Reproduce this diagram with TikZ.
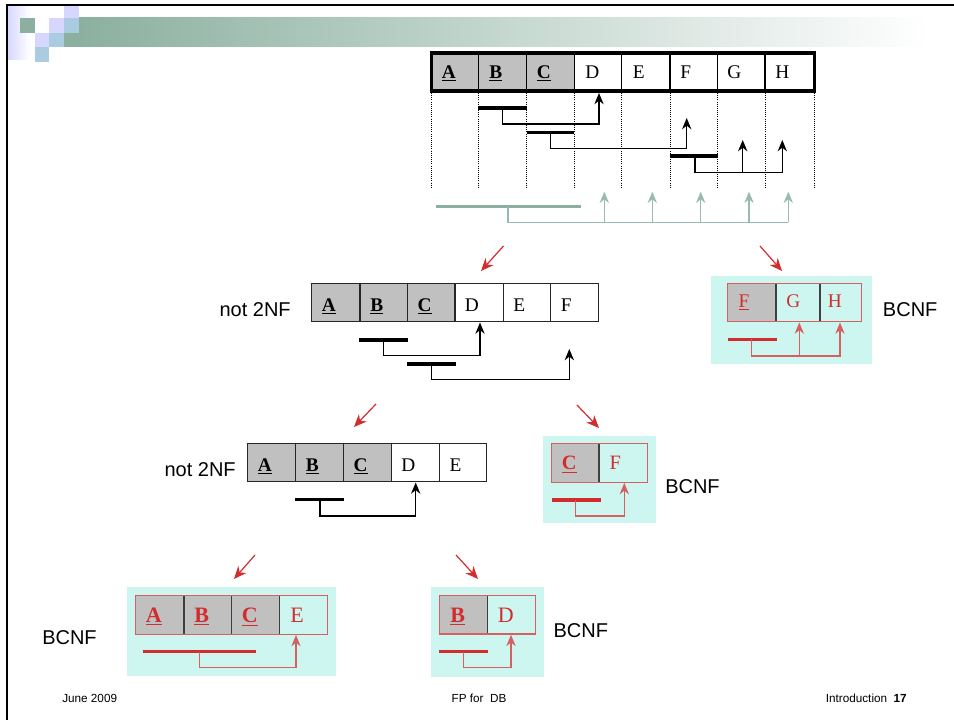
\documentclass[tikz,border=0pt]{standalone}
\usepackage{fontspec}
\setmainfont{Liberation Serif}
\newfontfamily\arialf{Liberation Sans}
\usetikzlibrary{arrows.meta}
\definecolor{gbar}{RGB}{139,176,160}
\definecolor{garr}{RGB}{150,188,175}
\definecolor{lav}{RGB}{214,214,255}
\definecolor{lblue}{RGB}{170,204,224}
\definecolor{cyanbg}{RGB}{206,246,240}
\definecolor{rd}{RGB}{210,45,45}
\definecolor{rdb}{RGB}{214,95,95}
\definecolor{cellgray}{RGB}{192,192,192}
\begin{document}
\begin{tikzpicture}[x=0.75pt,y=-0.75pt,
  ltr/.style={anchor=base west,inner sep=0pt,font=\fontsize{14.5}{15}\selectfont},
  rltr/.style={ltr,text=rd},
  lbl/.style={anchor=base west,inner sep=0pt,font=\arialf\fontsize{15}{16}\selectfont},
  foot/.style={anchor=base,inner sep=0pt,font=\arialf\fontsize{8.8}{10}\selectfont},
  fdbar/.style={line width=2.5pt,black},
  fdline/.style={line width=0.9pt,black},
  redbar/.style={line width=2.6pt,rd},
  redline/.style={line width=0.9pt,rdb},
  gbarst/.style={line width=2.4pt,gbar},
  gline/.style={line width=0.9pt,garr},
  tip/.style={-{Stealth[length=8.5pt,width=7pt,inset=2.8pt]}},
  diag/.style={line width=0.9pt,rd,-{Stealth[length=9.5pt,width=8pt,inset=3pt]}},
  tbl/.style={line width=0.9pt,black!85},
  rtbl/.style={line width=0.9pt,rdb},
  dots/.style={line width=0.6pt,black,dash pattern=on 0.7pt off 0.9pt}]
\useasboundingbox (0,0) rectangle (954,720);
% ---- header decoration ----
\shade[left color=gbar,right color=white] (79,18) rectangle (930,47);
\shade[left color=lav,right color=white] (7,5) rectangle (30,60);
\fill[gbar] (20,18) rectangle (35,33);
\fill[lav] (64,4) rectangle (79,18);
\fill[lav] (49,18) rectangle (64,33);
\fill[lblue] (64,18) rectangle (79,33);
\fill[gbar] (64,33) rectangle (79,47);
\fill[lav] (35,33) rectangle (49,47);
\fill[lblue] (49,33) rectangle (64,47);
\fill[lblue] (35,47) rectangle (49,62);
\draw[line width=0.9pt] (7,720) -- (7,5) -- (954,5);
% ---- top relation ----
\fill[cellgray] (431.7,53) rectangle (574.3,91);
\foreach \x in {478.3,526.7,574.3,621.7,670,717.7,765}
  \draw[line width=0.8pt] (\x,53) -- (\x,91);
\draw[line width=2.5pt] (431.7,53) rectangle (814.3,91);
\foreach \x in {431.7,478.3,526.7,574.3,621.7,670,717.7,765,814.3}
  \draw[dots] (\x,93) -- (\x,187);
\node[ltr] (tA) at (441.7,78.3) {\textbf{\underline{A}}};
\node[ltr] (tB) at (489,78.3) {\textbf{\underline{B}}};
\node[ltr] (tC) at (536.7,78.3) {\textbf{\underline{C}}};
\node[ltr] (tD) at (585,78.3) {D};
\node[ltr] (tE) at (632.5,78.3) {E};
\node[ltr] (tF) at (680,78.3) {F};
\node[ltr] (tG) at (727,78.3) {G};
\node[ltr] (tH) at (775,78.3) {H};
\draw[fdbar] (478.3,108) -- (526.7,108);
\draw[fdline,tip] (502.7,108) -- (502.7,124) -- (599,124) -- (599,93);
\draw[fdbar] (526.7,132.7) -- (574.3,132.7);
\draw[fdline,tip] (550.7,132.7) -- (550.7,148.3) -- (686.7,148.3) -- (686.7,118);
\draw[fdbar] (670,156) -- (717.7,156);
\draw[fdline,tip] (695,156) -- (695,172.3) -- (782.3,172.3) -- (782.3,140);
\draw[fdline,tip] (742.7,172.3) -- (742.7,140);
\draw[gbarst] (436,206.7) -- (581,206.7);
\draw[gline] (508,206.7) -- (508,222.3) -- (788.3,222.3);
\foreach \x in {604.3,652.3,700.7,749,788.3}
  \draw[gline,tip] (\x,222.3) -- (\x,191.7);
% ---- split arrows ----
\coordinate (s1a) at (503.5,246); \coordinate (s1b) at (481,271);
\coordinate (s2a) at (760,246); \coordinate (s2b) at (782,271);
\coordinate (s3a) at (376,404); \coordinate (s3b) at (354,427);
\coordinate (s4a) at (577,405); \coordinate (s4b) at (599,428);
\coordinate (s5a) at (255,555); \coordinate (s5b) at (234,579);
\coordinate (s6a) at (456,555); \coordinate (s6b) at (478,579);
\foreach \i in {1,...,6} \draw[diag] (s\i a) -- (s\i b);
% ---- level 2: ABCDEF ----
\fill[cellgray] (311.7,283.3) rectangle (455,321.7);
\foreach \x in {360,407.3,455,503.3,550.7}
  \draw[tbl] (\x,283.3) -- (\x,321.7);
\draw[tbl] (311.7,283.3) rectangle (598.3,321.7);
\node[ltr] (mA) at (321.7,311.7) {\textbf{\underline{A}}};
\node[ltr] (mB) at (370,311.7) {\textbf{\underline{B}}};
\node[ltr] (mC) at (417.3,311.7) {\textbf{\underline{C}}};
\node[ltr] (mD) at (464.5,311.7) {D};
\node[ltr] (mE) at (513,311.7) {E};
\node[ltr] (mF) at (560.5,311.7) {F};
\node[lbl,anchor=base east] (n2a) at (291,316.5) {not 2NF};
\draw[fdbar] (359.3,340) -- (407.7,340);
\draw[fdline,tip] (383.3,340) -- (383.3,355.7) -- (480,355.7) -- (480,322.5);
\draw[fdbar] (407.3,364) -- (455.7,364);
\draw[fdline,tip] (431.7,364) -- (431.7,379.3) -- (569.3,379.3) -- (569.3,349);
% ---- FGH ----
\fill[cyanbg] (711,276) rectangle (871.7,364);
\fill[cellgray] (727.7,283.3) rectangle (776,321.7);
\draw[line width=0.9pt,black!75] (776,283.3) -- (776,321.7);
\draw[line width=0.9pt,black!75] (820,283.3) -- (820,321.7);
\draw[rtbl] (727.7,283.3) rectangle (861.7,321.7);
\node[rltr] (rF) at (738.3,307.5) {\underline{F}};
\node[rltr] (rG) at (786,307.5) {G};
\node[rltr] (rH) at (827.7,307.5) {H};
\draw[redbar] (728.3,339.3) -- (776.7,339.3);
\draw[redline,tip] (751.7,339.3) -- (751.7,356) -- (840,356) -- (840,322.5);
\draw[redline,tip] (799.3,356) -- (799.3,322.5);
\node[lbl] (b1) at (882.7,316.7) {BCNF};
% ---- level 3: ABCDE ----
\fill[cellgray] (247.7,443.3) rectangle (391.7,481.7);
\foreach \x in {295.7,343.3,391.7,439.3}
  \draw[tbl] (\x,443.3) -- (\x,481.7);
\draw[tbl] (247.7,443.3) rectangle (486.7,481.7);
\node[ltr] (lA) at (257.7,471.5) {\textbf{\underline{A}}};
\node[ltr] (lB) at (305.7,471.5) {\textbf{\underline{B}}};
\node[ltr] (lC) at (353.3,471.5) {\textbf{\underline{C}}};
\node[ltr] (lD) at (401,471.5) {D};
\node[ltr] (lE) at (449.3,471.5) {E};
\node[lbl,anchor=base east] (n2b) at (236,476.7) {not 2NF};
\draw[fdbar] (295,499.3) -- (344,499.3);
\draw[fdline,tip] (320,499.3) -- (320,516) -- (415.7,516) -- (415.7,482.5);
% ---- CF ----
\fill[cyanbg] (542.7,436) rectangle (656,523.3);
\fill[cellgray] (551.7,443.3) rectangle (599,482.3);
\draw[line width=0.9pt,black!75] (599,443.3) -- (599,482.3);
\draw[rtbl] (551.7,443.3) rectangle (647.3,482.3);
\node[rltr,font=\fontsize{15.3}{16}\selectfont] (cC) at (561.7,469.8) {\textbf{\underline{C}}};
\node[rltr,font=\fontsize{15.3}{16}\selectfont] (cF) at (609.3,469.8) {F};
\draw[redbar] (551.7,500) -- (601,500);
\draw[redline,tip] (575.7,500) -- (575.7,516) -- (624.3,516) -- (624.3,483);
\node[lbl] (b2) at (665,493.3) {BCNF};
% ---- ABCE ----
\fill[cyanbg] (126.7,587.3) rectangle (336,676);
\fill[cellgray] (135.7,595.7) rectangle (279.3,634.3);
\foreach \x in {184,231.7,279.3}
  \draw[line width=0.9pt,black!75] (\x,595.7) -- (\x,634.3);
\draw[rtbl] (135.7,595.7) rectangle (327.3,634.3);
\node[rltr,font=\fontsize{16.5}{17}\selectfont] (eA) at (145.7,622.7) {\textbf{\underline{A}}};
\node[rltr,font=\fontsize{16.5}{17}\selectfont] (eB) at (194,622.7) {\textbf{\underline{B}}};
\node[rltr,font=\fontsize{16.5}{17}\selectfont] (eC) at (241.7,622.7) {\textbf{\underline{C}}};
\node[rltr,font=\fontsize{16.5}{17}\selectfont] (eE) at (290,622.7) {E};
\draw[redbar] (142.7,651.7) -- (256,651.7);
\draw[redline,tip] (199.3,651.7) -- (199.3,667.7) -- (296,667.7) -- (296,635);
\node[lbl] (b3) at (42,644.5) {BCNF};
% ---- BD ----
\fill[cyanbg] (430.7,586.7) rectangle (544,676.7);
\fill[cellgray] (439.3,595.7) rectangle (487.3,634);
\draw[line width=0.9pt,black!75] (487.3,595.7) -- (487.3,634);
\draw[rtbl] (439.3,595.7) rectangle (535.7,634);
\node[rltr,font=\fontsize{16.5}{17}\selectfont] (dB) at (450,622.3) {\textbf{\underline{B}}};
\node[rltr,font=\fontsize{16.5}{17}\selectfont] (dD) at (497.7,622.3) {D};
\draw[redbar] (439,651.7) -- (488.3,651.7);
\draw[redline,tip] (463.3,651.7) -- (463.3,667.3) -- (511,667.3) -- (511,634.8);
\node[lbl] (b4) at (553.3,637.3) {BCNF};
% ---- footer ----
\node[foot,anchor=base west] (f1) at (62,702) {June 2009};
\node[foot] (f2) at (479,702) {FP for\ \ DB};
\node[foot,anchor=base east] (f3) at (907,702) {Introduction\ \ \textbf{17}};
\end{tikzpicture}
\end{document}
